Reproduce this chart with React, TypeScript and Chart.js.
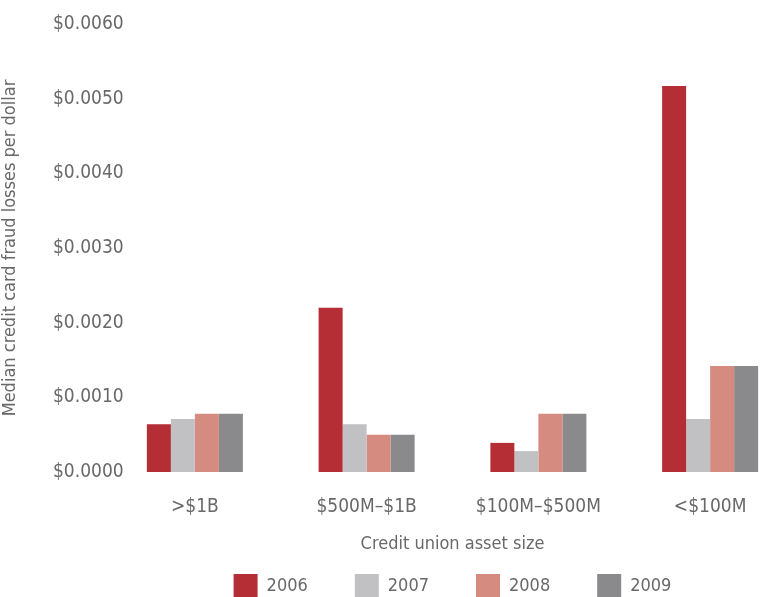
import React, { useEffect, useRef } from "react";
import { Chart, registerables } from "chart.js";

Chart.register(...registerables);

const categories = [">$1B", "$500M–$1B", "$100M–$500M", "<$100M"];
const years = ["2006", "2007", "2008", "2009"];
const values2006 = [0.00064, 0.0022, 0.00039, 0.00517];
const values2007 = [0.00071, 0.00064, 0.00028, 0.00071];
const values2008 = [0.00078, 0.0005, 0.00078, 0.00142];
const values2009 = [0.00078, 0.0005, 0.00078, 0.00142];
const colors = ["#b52d35", "#c1c1c3", "#d58b7f", "#8a8a8c"];
const yTitle = "Median credit card fraud losses per dollar";
const xTitle = "Credit union asset size";

const FONT = "'DejaVu Sans Condensed', 'Liberation Sans Narrow', sans-serif";
const TEXT = "#69696b";

export default function App() {
  const ref = useRef<HTMLCanvasElement | null>(null);
  useEffect(() => {
    document.body.style.margin = "0";
    const series = [values2006, values2007, values2008, values2009];
    const chart = new Chart(ref.current!, {
      type: "bar",
      data: {
        labels: categories,
        datasets: years.map((y, i) => ({
          label: y,
          data: series[i],
          backgroundColor: colors[i],
          borderWidth: 0,
          categoryPercentage: 0.559,
          barPercentage: 1,
        })),
      },
      options: {
        responsive: false,
        animation: false,
        devicePixelRatio: 1,
        layout: { padding: { top: 24, right: 4, left: 0, bottom: 0 } },
        plugins: {
          tooltip: { enabled: false },
          legend: {
            position: "bottom",
            fullSize: false,
            labels: {
              boxWidth: 24,
              boxHeight: 24,
              padding: 47,
              color: TEXT,
              font: { family: FONT, size: 18 },
            },
          },
        },
        scales: {
          x: {
            grid: { display: false, drawTicks: false },
            border: { display: false },
            ticks: { color: TEXT, font: { family: FONT, size: 19 }, padding: 24, maxRotation: 0, autoSkip: false },
            title: {
              display: true,
              text: xTitle,
              color: TEXT,
              font: { family: FONT, size: 18 },
              padding: { top: 12, bottom: -28 },
            },
            afterFit: (scale: any) => {
              scale.height = 55;
            },
          },
          y: {
            min: 0,
            max: 0.006,
            grid: { display: false, drawTicks: false },
            border: { display: false },
            ticks: {
              stepSize: 0.001,
              color: TEXT,
              font: { family: FONT, size: 19 },
              mirror: true,
              padding: -56,
              crossAlign: "near",
              callback: (v: any) => "$" + Number(v).toFixed(4),
            },
            title: {
              display: true,
              text: yTitle,
              color: TEXT,
              font: { family: FONT, size: 18 },
              padding: 0,
            },
            afterFit: (scale: any) => {
              scale.width = 109;
            },
          },
        },
      },
    });
    return () => chart.destroy();
  }, []);
  return (
    <div style={{ width: 770, height: 597, overflow: "hidden", position: "relative" }}>
      <canvas ref={ref} width={800} height={608} style={{ display: "block" }} />
    </div>
  );
}
